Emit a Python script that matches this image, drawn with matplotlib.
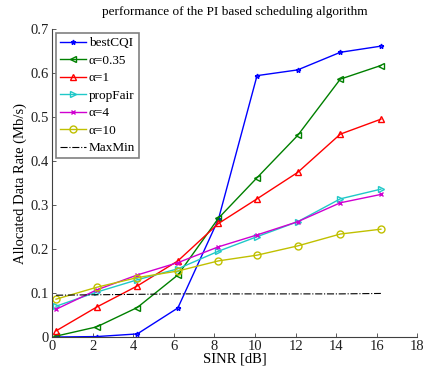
import numpy as np
import matplotlib
matplotlib.use("Agg")
import matplotlib.pyplot as plt

plt.rcParams.update({
    "font.family": "Liberation Serif",
    "font.size": 10,
    "xtick.direction": "in",
    "ytick.direction": "in",
    "axes.linewidth": 0.8,
})

# data
sinr = [0.2, 2.2, 4.2, 6.2, 8.2, 10.1, 12.1, 14.2, 16.2]
best_cqi = [0.0, 0.001, 0.007, 0.066, 0.268, 0.594, 0.607, 0.647, 0.661]
alpha_035 = [0.002, 0.023, 0.067, 0.141, 0.270, 0.362, 0.458, 0.586, 0.617]
alpha_1 = [0.014, 0.068, 0.116, 0.173, 0.258, 0.314, 0.374, 0.461, 0.495]
prop_fair = [0.070, 0.102, 0.130, 0.155, 0.195, 0.228, 0.262, 0.314, 0.336]
alpha_4 = [0.063, 0.107, 0.141, 0.169, 0.205, 0.232, 0.262, 0.305, 0.324]
alpha_10 = [0.086, 0.113, 0.135, 0.150, 0.173, 0.186, 0.207, 0.234, 0.245]
max_min = [0.095, 0.096, 0.097, 0.098, 0.098, 0.098, 0.098, 0.098, 0.099]

series = [
    ("bestCQI", best_cqi, "#0000ff", "*", "-"),
    ("α=0.35", alpha_035, "#008000", "<", "-"),
    ("α=1", alpha_1, "#ff0000", "^", "-"),
    ("propFair", prop_fair, "#20c8c8", ">", "-"),
    ("α=4", alpha_4, "#d000d0", "x", "-"),
    ("α=10", alpha_10, "#c0c000", "o", "-"),
    ("MaxMin", max_min, "#000000", "", "-."),
]

fig = plt.figure(figsize=(4.29, 3.66), dpi=100)
ax = fig.add_axes([0.1212, 0.0792, 0.8518, 0.8416])

for label, vals, color, marker, ls in series:
    ax.plot(sinr, vals, color=color, linestyle=ls, linewidth=1.0 if ls == "-" else 0.8,
            marker=marker if marker else None, markersize=3.5 if marker in ("*", "x") else 5,
            markerfacecolor="none", markeredgecolor=color, markeredgewidth=1.0,
            label=label)

ax.set_xlim(0, 18)
ax.set_ylim(0, 0.7)
ax.set_xticks(np.arange(0, 19, 2))
ax.set_yticks(np.arange(0, 0.71, 0.1))
ax.set_yticklabels(["0", "0.1", "0.2", "0.3", "0.4", "0.5", "0.6", "0.7"])
ax.spines["top"].set_visible(False)
ax.spines["right"].set_visible(False)
for sp in ax.spines.values():
    sp.set_color("#404040")
ax.tick_params(length=3, width=0.6, colors="#404040", labelcolor="#202020",
               labelsize=10.5, pad=2)

ax.set_xlabel("SINR [dB]", fontsize=10.5, labelpad=0)
ax.set_ylabel("Allocated Data Rate (Mb/s)", fontsize=10.5, labelpad=3)
ax.set_title("performance of the PI based scheduling algorithm", fontsize=9.5, pad=10)

leg = ax.legend(loc="upper left", fontsize=9.5, frameon=True, fancybox=False,
                edgecolor="#808080", framealpha=1, borderpad=0.3, labelspacing=0.4,
                handlelength=2.0, handletextpad=0.2, borderaxespad=0.3)
leg.get_frame().set_linewidth(1.2)

fig.savefig("out.png", dpi=100)
